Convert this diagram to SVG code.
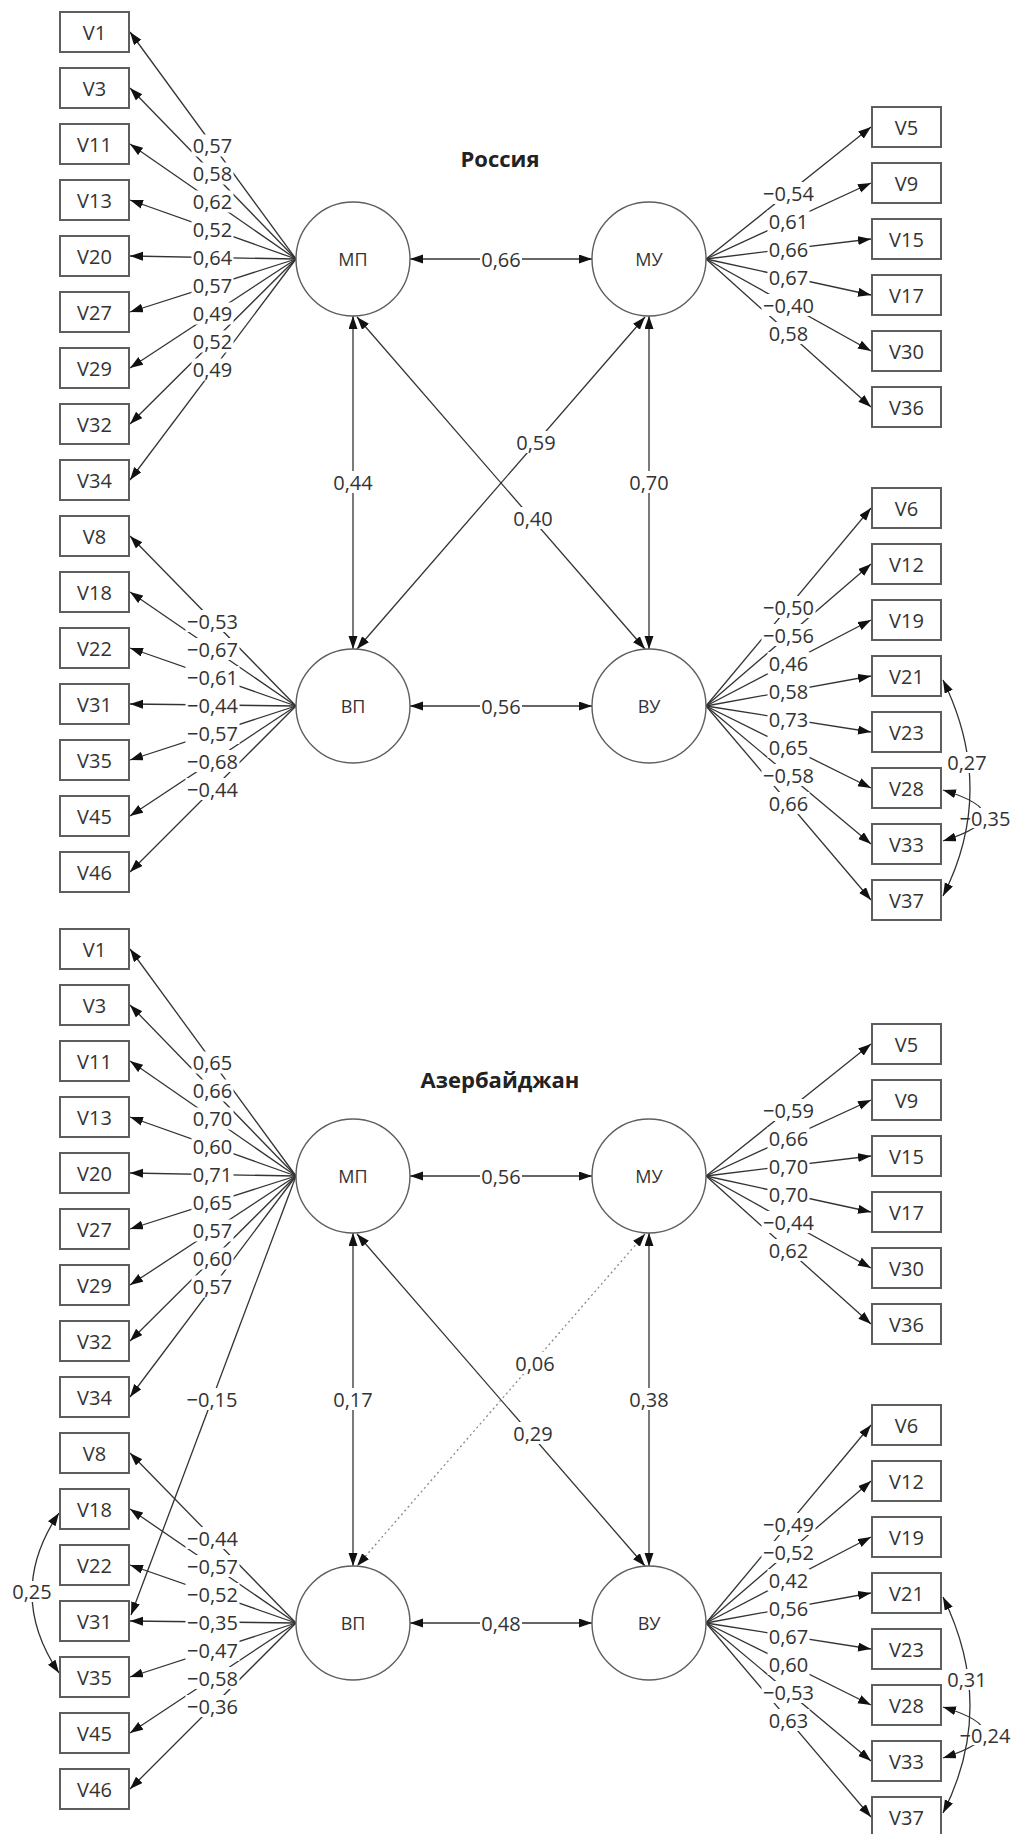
<svg xmlns="http://www.w3.org/2000/svg" width="1011" height="1834" viewBox="0 0 1011 1834">
<defs>
<marker id="ah" markerUnits="userSpaceOnUse" markerWidth="14" markerHeight="10" refX="13" refY="4.5" orient="auto-start-reverse"><path d="M0,0 L13,4.5 L0,9 z" fill="#111"/></marker>
<style>
.box{fill:#fff;stroke:#5e5e5e;stroke-width:2}
.lv{fill:#fff;stroke:#5e5e5e;stroke-width:1.4}
text{font-family:"Open Sans","Noto Sans",sans-serif;font-size:20px;fill:#333;text-anchor:middle;dominant-baseline:central}
.c{font-size:18px}
.ttl{font-weight:bold;font-size:22px;fill:#222;dominant-baseline:auto}
.ln path{stroke:#333;stroke-width:1.3;fill:none}
.one{marker-end:url(#ah)}
.two{marker-start:url(#ah);marker-end:url(#ah)}
path.dot{stroke:#8a8a8a;stroke-dasharray:2 3}
.bg{fill:#fff}
</style>
</defs>
<rect width="1011" height="1834" fill="#fff"/>

<!-- ================= RUSSIA ================= -->
<g id="russia">
<text class="ttl" x="500" y="167">Россия</text>
<g id="r-connectors" class="ln">
<path class="one" d="M296 259L130 32"/><path class="one" d="M296 259L130 88"/><path class="one" d="M296 259L130 144"/><path class="one" d="M296 259L130 200"/><path class="one" d="M296 259L130 256"/><path class="one" d="M296 259L130 312"/><path class="one" d="M296 259L130 368"/><path class="one" d="M296 259L130 424"/><path class="one" d="M296 259L130 480"/>
<path class="one" d="M296 706L130 536"/><path class="one" d="M296 706L130 592"/><path class="one" d="M296 706L130 648"/><path class="one" d="M296 706L130 704"/><path class="one" d="M296 706L130 760"/><path class="one" d="M296 706L130 816"/><path class="one" d="M296 706L130 872"/>
<path class="one" d="M706 259L871 127"/><path class="one" d="M706 259L871 183"/><path class="one" d="M706 259L871 239"/><path class="one" d="M706 259L871 295"/><path class="one" d="M706 259L871 351"/><path class="one" d="M706 259L871 407"/>
<path class="one" d="M706 706L871 508"/><path class="one" d="M706 706L871 564"/><path class="one" d="M706 706L871 620"/><path class="one" d="M706 706L871 676"/><path class="one" d="M706 706L871 732"/><path class="one" d="M706 706L871 788"/><path class="one" d="M706 706L871 844"/><path class="one" d="M706 706L871 900"/>
<path class="two" d="M410 259H592"/><path class="two" d="M410 706H592"/>
<path class="two" d="M353 316V649"/><path class="two" d="M649 316V649"/>
<path class="two" d="M357 317L645 649"/><path class="two" d="M645 317L357 649"/>
<path class="two" d="M943 790Q1025 815 943 841"/>
</g>
<g id="r-labels">
<g><rect class="bg" x="191.5" y="134.5" width="42" height="22"/><text x="212.5" y="145.5">0,57</text></g>
<g><rect class="bg" x="191.5" y="162.5" width="42" height="22"/><text x="212.5" y="173.5">0,58</text></g>
<g><rect class="bg" x="191.5" y="190.5" width="42" height="22"/><text x="212.5" y="201.5">0,62</text></g>
<g><rect class="bg" x="191.5" y="218.5" width="42" height="22"/><text x="212.5" y="229.5">0,52</text></g>
<g><rect class="bg" x="191.5" y="246.5" width="42" height="22"/><text x="212.5" y="257.5">0,64</text></g>
<g><rect class="bg" x="191.5" y="274.5" width="42" height="22"/><text x="212.5" y="285.5">0,57</text></g>
<g><rect class="bg" x="191.5" y="302.5" width="42" height="22"/><text x="212.5" y="313.5">0,49</text></g>
<g><rect class="bg" x="191.5" y="330.5" width="42" height="22"/><text x="212.5" y="341.5">0,52</text></g>
<g><rect class="bg" x="191.5" y="358.5" width="42" height="22"/><text x="212.5" y="369.5">0,49</text></g>
<g><rect class="bg" x="185.5" y="610" width="54" height="22"/><text x="212.5" y="621">−0,53</text></g>
<g><rect class="bg" x="185.5" y="638" width="54" height="22"/><text x="212.5" y="649">−0,67</text></g>
<g><rect class="bg" x="185.5" y="666" width="54" height="22"/><text x="212.5" y="677">−0,61</text></g>
<g><rect class="bg" x="185.5" y="694" width="54" height="22"/><text x="212.5" y="705">−0,44</text></g>
<g><rect class="bg" x="185.5" y="722" width="54" height="22"/><text x="212.5" y="733">−0,57</text></g>
<g><rect class="bg" x="185.5" y="750" width="54" height="22"/><text x="212.5" y="761">−0,68</text></g>
<g><rect class="bg" x="185.5" y="778" width="54" height="22"/><text x="212.5" y="789">−0,44</text></g>
<g><rect class="bg" x="761.5" y="182" width="54" height="22"/><text x="788.5" y="193">−0,54</text></g>
<g><rect class="bg" x="767.5" y="210" width="42" height="22"/><text x="788.5" y="221">0,61</text></g>
<g><rect class="bg" x="767.5" y="238" width="42" height="22"/><text x="788.5" y="249">0,66</text></g>
<g><rect class="bg" x="767.5" y="266" width="42" height="22"/><text x="788.5" y="277">0,67</text></g>
<g><rect class="bg" x="761.5" y="294" width="54" height="22"/><text x="788.5" y="305">−0,40</text></g>
<g><rect class="bg" x="767.5" y="322" width="42" height="22"/><text x="788.5" y="333">0,58</text></g>
<g><rect class="bg" x="761.5" y="596" width="54" height="22"/><text x="788.5" y="607">−0,50</text></g>
<g><rect class="bg" x="761.5" y="624" width="54" height="22"/><text x="788.5" y="635">−0,56</text></g>
<g><rect class="bg" x="767.5" y="652" width="42" height="22"/><text x="788.5" y="663">0,46</text></g>
<g><rect class="bg" x="767.5" y="680" width="42" height="22"/><text x="788.5" y="691">0,58</text></g>
<g><rect class="bg" x="767.5" y="708" width="42" height="22"/><text x="788.5" y="719">0,73</text></g>
<g><rect class="bg" x="767.5" y="736" width="42" height="22"/><text x="788.5" y="747">0,65</text></g>
<g><rect class="bg" x="761.5" y="764" width="54" height="22"/><text x="788.5" y="775">−0,58</text></g>
<g><rect class="bg" x="767.5" y="792" width="42" height="22"/><text x="788.5" y="803">0,66</text></g>
<g><rect class="bg" x="480" y="248" width="42" height="22"/><text x="501" y="259">0,66</text></g>
<g><rect class="bg" x="480" y="695" width="42" height="22"/><text x="501" y="706">0,56</text></g>
<g><rect class="bg" x="332" y="471" width="42" height="22"/><text x="353" y="482">0,44</text></g>
<g><rect class="bg" x="628" y="471" width="42" height="22"/><text x="649" y="482">0,70</text></g>
<g><rect class="bg" x="515" y="431" width="42" height="22"/><text x="536" y="442">0,59</text></g>
<g><rect class="bg" x="512" y="507" width="42" height="22"/><text x="533" y="518">0,40</text></g>
<g><rect class="bg" x="959" y="808" width="52" height="20"/><text x="985" y="818">−0,35</text></g>
</g>
<g id="r-cov" class="ln"><path class="two" d="M943 680Q997 790 943 896"/></g>
<g id="r-cov-label"><rect class="bg" x="946" y="752" width="42" height="21"/><text x="967" y="762">0,27</text></g>
<g id="r-MP"><circle class="lv" cx="353" cy="259" r="57"/><text class="c" x="353" y="259">МП</text></g>
<g id="r-MU"><circle class="lv" cx="649" cy="259" r="57"/><text class="c" x="649" y="259">МУ</text></g>
<g id="r-VP"><circle class="lv" cx="353" cy="706" r="57"/><text class="c" x="353" y="706">ВП</text></g>
<g id="r-VU"><circle class="lv" cx="649" cy="706" r="57"/><text class="c" x="649" y="706">ВУ</text></g>
<g id="r-V1"><rect class="box" x="60" y="12" width="69" height="40"/><text x="94.5" y="32">V1</text></g>
<g id="r-V3"><rect class="box" x="60" y="68" width="69" height="40"/><text x="94.5" y="88">V3</text></g>
<g id="r-V11"><rect class="box" x="60" y="124" width="69" height="40"/><text x="94.5" y="144">V11</text></g>
<g id="r-V13"><rect class="box" x="60" y="180" width="69" height="40"/><text x="94.5" y="200">V13</text></g>
<g id="r-V20"><rect class="box" x="60" y="236" width="69" height="40"/><text x="94.5" y="256">V20</text></g>
<g id="r-V27"><rect class="box" x="60" y="292" width="69" height="40"/><text x="94.5" y="312">V27</text></g>
<g id="r-V29"><rect class="box" x="60" y="348" width="69" height="40"/><text x="94.5" y="368">V29</text></g>
<g id="r-V32"><rect class="box" x="60" y="404" width="69" height="40"/><text x="94.5" y="424">V32</text></g>
<g id="r-V34"><rect class="box" x="60" y="460" width="69" height="40"/><text x="94.5" y="480">V34</text></g>
<g id="r-V8"><rect class="box" x="60" y="516" width="69" height="40"/><text x="94.5" y="536">V8</text></g>
<g id="r-V18"><rect class="box" x="60" y="572" width="69" height="40"/><text x="94.5" y="592">V18</text></g>
<g id="r-V22"><rect class="box" x="60" y="628" width="69" height="40"/><text x="94.5" y="648">V22</text></g>
<g id="r-V31"><rect class="box" x="60" y="684" width="69" height="40"/><text x="94.5" y="704">V31</text></g>
<g id="r-V35"><rect class="box" x="60" y="740" width="69" height="40"/><text x="94.5" y="760">V35</text></g>
<g id="r-V45"><rect class="box" x="60" y="796" width="69" height="40"/><text x="94.5" y="816">V45</text></g>
<g id="r-V46"><rect class="box" x="60" y="852" width="69" height="40"/><text x="94.5" y="872">V46</text></g>
<g id="r-V5"><rect class="box" x="872" y="107" width="69" height="40"/><text x="906.5" y="127">V5</text></g>
<g id="r-V9"><rect class="box" x="872" y="163" width="69" height="40"/><text x="906.5" y="183">V9</text></g>
<g id="r-V15"><rect class="box" x="872" y="219" width="69" height="40"/><text x="906.5" y="239">V15</text></g>
<g id="r-V17"><rect class="box" x="872" y="275" width="69" height="40"/><text x="906.5" y="295">V17</text></g>
<g id="r-V30"><rect class="box" x="872" y="331" width="69" height="40"/><text x="906.5" y="351">V30</text></g>
<g id="r-V36"><rect class="box" x="872" y="387" width="69" height="40"/><text x="906.5" y="407">V36</text></g>
<g id="r-V6"><rect class="box" x="872" y="488" width="69" height="40"/><text x="906.5" y="508">V6</text></g>
<g id="r-V12"><rect class="box" x="872" y="544" width="69" height="40"/><text x="906.5" y="564">V12</text></g>
<g id="r-V19"><rect class="box" x="872" y="600" width="69" height="40"/><text x="906.5" y="620">V19</text></g>
<g id="r-V21"><rect class="box" x="872" y="656" width="69" height="40"/><text x="906.5" y="676">V21</text></g>
<g id="r-V23"><rect class="box" x="872" y="712" width="69" height="40"/><text x="906.5" y="732">V23</text></g>
<g id="r-V28"><rect class="box" x="872" y="768" width="69" height="40"/><text x="906.5" y="788">V28</text></g>
<g id="r-V33"><rect class="box" x="872" y="824" width="69" height="40"/><text x="906.5" y="844">V33</text></g>
<g id="r-V37"><rect class="box" x="872" y="880" width="69" height="40"/><text x="906.5" y="900">V37</text></g>
</g>

<!-- ================= AZERBAIJAN ================= -->
<g id="azerbaijan" transform="translate(0,917)">
<text class="ttl" x="500" y="171">Азербайджан</text>
<g id="a-connectors" class="ln">
<path class="one" d="M296 259L130 32"/><path class="one" d="M296 259L130 88"/><path class="one" d="M296 259L130 144"/><path class="one" d="M296 259L130 200"/><path class="one" d="M296 259L130 256"/><path class="one" d="M296 259L130 312"/><path class="one" d="M296 259L130 368"/><path class="one" d="M296 259L130 424"/><path class="one" d="M296 259L130 480"/>
<path class="one" d="M296 259L131 698"/>
<path class="one" d="M296 706L130 536"/><path class="one" d="M296 706L130 592"/><path class="one" d="M296 706L130 648"/><path class="one" d="M296 706L130 704"/><path class="one" d="M296 706L130 760"/><path class="one" d="M296 706L130 816"/><path class="one" d="M296 706L130 872"/>
<path class="one" d="M706 259L871 127"/><path class="one" d="M706 259L871 183"/><path class="one" d="M706 259L871 239"/><path class="one" d="M706 259L871 295"/><path class="one" d="M706 259L871 351"/><path class="one" d="M706 259L871 407"/>
<path class="one" d="M706 706L871 508"/><path class="one" d="M706 706L871 564"/><path class="one" d="M706 706L871 620"/><path class="one" d="M706 706L871 676"/><path class="one" d="M706 706L871 732"/><path class="one" d="M706 706L871 788"/><path class="one" d="M706 706L871 844"/><path class="one" d="M706 706L871 900"/>
<path class="two" d="M410 259H592"/><path class="two" d="M410 706H592"/>
<path class="two" d="M353 316V649"/><path class="two" d="M649 316V649"/>
<path class="two" d="M357 317L645 649"/><path class="two dot" d="M645 317L357 649"/>
<path class="two" d="M943 790Q1025 815 943 841"/>
<path class="two" d="M59 596Q5 676 59 756"/>
</g>
<g id="a-labels">
<g><rect class="bg" x="191.5" y="134.5" width="42" height="22"/><text x="212.5" y="145.5">0,65</text></g>
<g><rect class="bg" x="191.5" y="162.5" width="42" height="22"/><text x="212.5" y="173.5">0,66</text></g>
<g><rect class="bg" x="191.5" y="190.5" width="42" height="22"/><text x="212.5" y="201.5">0,70</text></g>
<g><rect class="bg" x="191.5" y="218.5" width="42" height="22"/><text x="212.5" y="229.5">0,60</text></g>
<g><rect class="bg" x="191.5" y="246.5" width="42" height="22"/><text x="212.5" y="257.5">0,71</text></g>
<g><rect class="bg" x="191.5" y="274.5" width="42" height="22"/><text x="212.5" y="285.5">0,65</text></g>
<g><rect class="bg" x="191.5" y="302.5" width="42" height="22"/><text x="212.5" y="313.5">0,57</text></g>
<g><rect class="bg" x="191.5" y="330.5" width="42" height="22"/><text x="212.5" y="341.5">0,60</text></g>
<g><rect class="bg" x="191.5" y="358.5" width="42" height="22"/><text x="212.5" y="369.5">0,57</text></g>
<g><rect class="bg" x="185" y="471" width="54" height="22"/><text x="212" y="482">−0,15</text></g>
<g><rect class="bg" x="185.5" y="610" width="54" height="22"/><text x="212.5" y="621">−0,44</text></g>
<g><rect class="bg" x="185.5" y="638" width="54" height="22"/><text x="212.5" y="649">−0,57</text></g>
<g><rect class="bg" x="185.5" y="666" width="54" height="22"/><text x="212.5" y="677">−0,52</text></g>
<g><rect class="bg" x="185.5" y="694" width="54" height="22"/><text x="212.5" y="705">−0,35</text></g>
<g><rect class="bg" x="185.5" y="722" width="54" height="22"/><text x="212.5" y="733">−0,47</text></g>
<g><rect class="bg" x="185.5" y="750" width="54" height="22"/><text x="212.5" y="761">−0,58</text></g>
<g><rect class="bg" x="185.5" y="778" width="54" height="22"/><text x="212.5" y="789">−0,36</text></g>
<g><rect class="bg" x="761.5" y="182" width="54" height="22"/><text x="788.5" y="193">−0,59</text></g>
<g><rect class="bg" x="767.5" y="210" width="42" height="22"/><text x="788.5" y="221">0,66</text></g>
<g><rect class="bg" x="767.5" y="238" width="42" height="22"/><text x="788.5" y="249">0,70</text></g>
<g><rect class="bg" x="767.5" y="266" width="42" height="22"/><text x="788.5" y="277">0,70</text></g>
<g><rect class="bg" x="761.5" y="294" width="54" height="22"/><text x="788.5" y="305">−0,44</text></g>
<g><rect class="bg" x="767.5" y="322" width="42" height="22"/><text x="788.5" y="333">0,62</text></g>
<g><rect class="bg" x="761.5" y="596" width="54" height="22"/><text x="788.5" y="607">−0,49</text></g>
<g><rect class="bg" x="761.5" y="624" width="54" height="22"/><text x="788.5" y="635">−0,52</text></g>
<g><rect class="bg" x="767.5" y="652" width="42" height="22"/><text x="788.5" y="663">0,42</text></g>
<g><rect class="bg" x="767.5" y="680" width="42" height="22"/><text x="788.5" y="691">0,56</text></g>
<g><rect class="bg" x="767.5" y="708" width="42" height="22"/><text x="788.5" y="719">0,67</text></g>
<g><rect class="bg" x="767.5" y="736" width="42" height="22"/><text x="788.5" y="747">0,60</text></g>
<g><rect class="bg" x="761.5" y="764" width="54" height="22"/><text x="788.5" y="775">−0,53</text></g>
<g><rect class="bg" x="767.5" y="792" width="42" height="22"/><text x="788.5" y="803">0,63</text></g>
<g><rect class="bg" x="480" y="248" width="42" height="22"/><text x="501" y="259">0,56</text></g>
<g><rect class="bg" x="480" y="695" width="42" height="22"/><text x="501" y="706">0,48</text></g>
<g><rect class="bg" x="332" y="471" width="42" height="22"/><text x="353" y="482">0,17</text></g>
<g><rect class="bg" x="628" y="471" width="42" height="22"/><text x="649" y="482">0,38</text></g>
<g><rect class="bg" x="514" y="435" width="42" height="22"/><text x="535" y="446">0,06</text></g>
<g><rect class="bg" x="512" y="505" width="42" height="22"/><text x="533" y="516">0,29</text></g>
<g><rect class="bg" x="959" y="808" width="52" height="20"/><text x="985" y="818">−0,24</text></g>
<g><rect class="bg" x="11" y="664" width="42" height="21"/><text x="32" y="674">0,25</text></g>
</g>
<g id="a-cov" class="ln"><path class="two" d="M943 680Q997 790 943 896"/></g>
<g id="a-cov-label"><rect class="bg" x="946" y="752" width="42" height="21"/><text x="967" y="762">0,31</text></g>
<g id="a-MP"><circle class="lv" cx="353" cy="259" r="57"/><text class="c" x="353" y="259">МП</text></g>
<g id="a-MU"><circle class="lv" cx="649" cy="259" r="57"/><text class="c" x="649" y="259">МУ</text></g>
<g id="a-VP"><circle class="lv" cx="353" cy="706" r="57"/><text class="c" x="353" y="706">ВП</text></g>
<g id="a-VU"><circle class="lv" cx="649" cy="706" r="57"/><text class="c" x="649" y="706">ВУ</text></g>
<g id="a-V1"><rect class="box" x="60" y="12" width="69" height="40"/><text x="94.5" y="32">V1</text></g>
<g id="a-V3"><rect class="box" x="60" y="68" width="69" height="40"/><text x="94.5" y="88">V3</text></g>
<g id="a-V11"><rect class="box" x="60" y="124" width="69" height="40"/><text x="94.5" y="144">V11</text></g>
<g id="a-V13"><rect class="box" x="60" y="180" width="69" height="40"/><text x="94.5" y="200">V13</text></g>
<g id="a-V20"><rect class="box" x="60" y="236" width="69" height="40"/><text x="94.5" y="256">V20</text></g>
<g id="a-V27"><rect class="box" x="60" y="292" width="69" height="40"/><text x="94.5" y="312">V27</text></g>
<g id="a-V29"><rect class="box" x="60" y="348" width="69" height="40"/><text x="94.5" y="368">V29</text></g>
<g id="a-V32"><rect class="box" x="60" y="404" width="69" height="40"/><text x="94.5" y="424">V32</text></g>
<g id="a-V34"><rect class="box" x="60" y="460" width="69" height="40"/><text x="94.5" y="480">V34</text></g>
<g id="a-V8"><rect class="box" x="60" y="516" width="69" height="40"/><text x="94.5" y="536">V8</text></g>
<g id="a-V18"><rect class="box" x="60" y="572" width="69" height="40"/><text x="94.5" y="592">V18</text></g>
<g id="a-V22"><rect class="box" x="60" y="628" width="69" height="40"/><text x="94.5" y="648">V22</text></g>
<g id="a-V31"><rect class="box" x="60" y="684" width="69" height="40"/><text x="94.5" y="704">V31</text></g>
<g id="a-V35"><rect class="box" x="60" y="740" width="69" height="40"/><text x="94.5" y="760">V35</text></g>
<g id="a-V45"><rect class="box" x="60" y="796" width="69" height="40"/><text x="94.5" y="816">V45</text></g>
<g id="a-V46"><rect class="box" x="60" y="852" width="69" height="40"/><text x="94.5" y="872">V46</text></g>
<g id="a-V5"><rect class="box" x="872" y="107" width="69" height="40"/><text x="906.5" y="127">V5</text></g>
<g id="a-V9"><rect class="box" x="872" y="163" width="69" height="40"/><text x="906.5" y="183">V9</text></g>
<g id="a-V15"><rect class="box" x="872" y="219" width="69" height="40"/><text x="906.5" y="239">V15</text></g>
<g id="a-V17"><rect class="box" x="872" y="275" width="69" height="40"/><text x="906.5" y="295">V17</text></g>
<g id="a-V30"><rect class="box" x="872" y="331" width="69" height="40"/><text x="906.5" y="351">V30</text></g>
<g id="a-V36"><rect class="box" x="872" y="387" width="69" height="40"/><text x="906.5" y="407">V36</text></g>
<g id="a-V6"><rect class="box" x="872" y="488" width="69" height="40"/><text x="906.5" y="508">V6</text></g>
<g id="a-V12"><rect class="box" x="872" y="544" width="69" height="40"/><text x="906.5" y="564">V12</text></g>
<g id="a-V19"><rect class="box" x="872" y="600" width="69" height="40"/><text x="906.5" y="620">V19</text></g>
<g id="a-V21"><rect class="box" x="872" y="656" width="69" height="40"/><text x="906.5" y="676">V21</text></g>
<g id="a-V23"><rect class="box" x="872" y="712" width="69" height="40"/><text x="906.5" y="732">V23</text></g>
<g id="a-V28"><rect class="box" x="872" y="768" width="69" height="40"/><text x="906.5" y="788">V28</text></g>
<g id="a-V33"><rect class="box" x="872" y="824" width="69" height="40"/><text x="906.5" y="844">V33</text></g>
<g id="a-V37"><rect class="box" x="872" y="880" width="69" height="40"/><text x="906.5" y="900">V37</text></g>
</g>
</svg>
